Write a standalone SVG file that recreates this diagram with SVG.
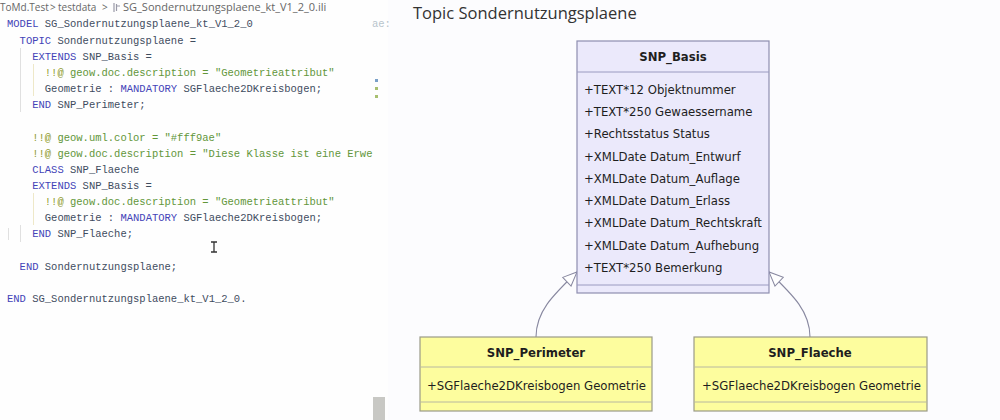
<svg xmlns="http://www.w3.org/2000/svg" width="1000" height="420" viewBox="0 0 1000 420">
<style>
.code{font-family:"Liberation Mono",monospace;font-size:10.5px;fill:#3e4c5e;white-space:pre}
.kw{fill:#4343b8}
.cm{fill:#62963a}
.at{fill:#8f9a2c}
.crumb{font-family:"Open Sans","Noto Sans",sans-serif;font-size:11px;fill:#666}
.crumbs{font-family:"Open Sans","Noto Sans",sans-serif;font-size:10px;fill:#666}
.title{font-family:"Open Sans","Noto Sans",sans-serif;font-size:16.5px;fill:#333}
.uml{font-family:"DejaVu Sans",sans-serif;font-size:11.7px;fill:#1e1e1e}
.umlb{font-family:"DejaVu Sans",sans-serif;font-size:11.7px;font-weight:bold;fill:#1e1e1e;text-anchor:middle}
.basis{fill:#ebe9fb;stroke:#8e8eb0;stroke-width:1.2}
.cls{fill:#fdfd9e;stroke:#9a9a88;stroke-width:1.2}
.sepb{stroke:#9a9ac0;stroke-width:1}
.sepy{stroke:#b8b8a0;stroke-width:1}
.edge{fill:none;stroke:#8888a0;stroke-width:1.1}
.guide{stroke:#e0e0e0;stroke-width:1}
</style>
<defs>
<marker id="gen" viewBox="0 0 16 14" refX="15" refY="7" markerWidth="16" markerHeight="14" markerUnits="userSpaceOnUse" orient="auto">
<path d="M1,1 L15,7 L1,13 Z" fill="#ffffff" stroke="#8888a0" stroke-width="1"/>
</marker>
</defs>
<rect x="0" y="0" width="1000" height="420" fill="#fcfcfe"/>
<rect x="0" y="0" width="388" height="420" fill="#fefefe"/>
<g id="editor">
<text class="crumbs" x="0" y="11">ToMd.Test</text>
<text class="crumbs" x="50" y="11">&gt;</text>
<text class="crumbs" x="58" y="11">testdata</text>
<text class="crumbs" x="102" y="11">&gt;</text>
<path d="M114,3 v9 M116.5,4 v7 M117,6 h3" stroke="#9a9aa8" stroke-width="1.2" fill="none"/>
<text class="crumb" x="123" y="11">SG_Sondernutzungsplaene_kt_V1_2_0.ili</text>
<line class="guide" x1="20.5" y1="48" x2="20.5" y2="112"/>
<line x1="33.5" y1="64" x2="33.5" y2="96" stroke="#eee8c8"/>
<line x1="33.5" y1="193" x2="33.5" y2="225" stroke="#eee8c8"/>
<line class="guide" x1="20.5" y1="225" x2="20.5" y2="242"/>
<line class="guide" x1="8.5" y1="228" x2="8.5" y2="240"/>
<text class="code" x="7" y="27"><tspan class="kw">MODEL</tspan> SG_Sondernutzungsplaene_kt_V1_2_0</text>
<text class="code" x="372" y="27" style="fill:#b8c4cc">ae:</text>
<text class="code" x="19.6" y="44"><tspan class="kw">TOPIC</tspan> Sondernutzungsplaene =</text>
<text class="code" x="32.2" y="60"><tspan class="kw">EXTENDS</tspan> SNP_Basis =</text>
<text class="code" x="44.8" y="76"><tspan class="at">!!@</tspan><tspan class="cm"> geow.doc.description = "Geometrieattribut"</tspan></text>
<text class="code" x="44.8" y="92">Geometrie : <tspan class="kw">MANDATORY</tspan> SGFlaeche2DKreisbogen;</text>
<text class="code" x="32.2" y="108"><tspan class="kw">END</tspan> SNP_Perimeter;</text>
<text class="code" x="32.2" y="141"><tspan class="at">!!@</tspan><tspan class="cm"> geow.uml.color = "#fff9ae"</tspan></text>
<text class="code" x="32.2" y="157"><tspan class="at">!!@</tspan><tspan class="cm"> geow.doc.description = "Diese Klasse ist eine Erwe</tspan></text>
<text class="code" x="32.2" y="173"><tspan class="kw">CLASS</tspan> SNP_Flaeche</text>
<text class="code" x="32.2" y="189"><tspan class="kw">EXTENDS</tspan> SNP_Basis =</text>
<text class="code" x="44.8" y="205"><tspan class="at">!!@</tspan><tspan class="cm"> geow.doc.description = "Geometrieattribut"</tspan></text>
<text class="code" x="44.8" y="221">Geometrie : <tspan class="kw">MANDATORY</tspan> SGFlaeche2DKreisbogen;</text>
<text class="code" x="32.2" y="237"><tspan class="kw">END</tspan> SNP_Flaeche;</text>
<text class="code" x="19.6" y="270"><tspan class="kw">END</tspan> Sondernutzungsplaene;</text>
<text class="code" x="7" y="302"><tspan class="kw">END</tspan> SG_Sondernutzungsplaene_kt_V1_2_0.</text>
<path d="M211,242 h6 M214,242 v10 M211,252 h6" stroke="#333" stroke-width="1.3" fill="none"/>
<rect x="375" y="79" width="3" height="3" fill="#7aa0c8"/>
<rect x="375" y="87" width="3" height="3" fill="#a8c070"/>
<rect x="375" y="95" width="3" height="3" fill="#a8c070"/>
<rect x="373" y="397" width="12" height="23" fill="#c8c8c4"/>
</g>
<text class="title" x="413" y="19">Topic Sondernutzungsplaene</text>
<g id="connectors">
<path class="edge" d="M536,337 C536,312 552,296 577,272" marker-end="url(#gen)"/>
<path class="edge" d="M810,337 C810,312 794,296 769,272" marker-end="url(#gen)"/>
</g>
<g id="SNP_Basis">
<rect class="basis" x="577" y="41" width="192" height="252"/>
<line class="sepb" x1="577" y1="72" x2="769" y2="72"/>
<line class="sepb" x1="577" y1="285" x2="769" y2="285"/>
<text class="umlb" x="673" y="61">SNP_Basis</text>
<text class="uml" x="584" y="94">+TEXT*12 Objektnummer</text>
<text class="uml" x="584" y="116">+TEXT*250 Gewaessername</text>
<text class="uml" x="584" y="138">+Rechtsstatus Status</text>
<text class="uml" x="584" y="161">+XMLDate Datum_Entwurf</text>
<text class="uml" x="584" y="183">+XMLDate Datum_Auflage</text>
<text class="uml" x="584" y="205">+XMLDate Datum_Erlass</text>
<text class="uml" x="584" y="227">+XMLDate Datum_Rechtskraft</text>
<text class="uml" x="584" y="250">+XMLDate Datum_Aufhebung</text>
<text class="uml" x="584" y="272">+TEXT*250 Bemerkung</text>
</g>
<g id="SNP_Perimeter">
<rect class="cls" x="420" y="337" width="232" height="74"/>
<line class="sepy" x1="420" y1="367" x2="652" y2="367"/>
<line class="sepy" x1="420" y1="402" x2="652" y2="402"/>
<text class="umlb" x="536" y="357">SNP_Perimeter</text>
<text class="uml" x="427" y="390">+SGFlaeche2DKreisbogen Geometrie</text>
</g>
<g id="SNP_Flaeche">
<rect class="cls" x="694" y="337" width="233" height="74"/>
<line class="sepy" x1="694" y1="367" x2="927" y2="367"/>
<line class="sepy" x1="694" y1="402" x2="927" y2="402"/>
<text class="umlb" x="810" y="357">SNP_Flaeche</text>
<text class="uml" x="702" y="390">+SGFlaeche2DKreisbogen Geometrie</text>
</g>
</svg>
